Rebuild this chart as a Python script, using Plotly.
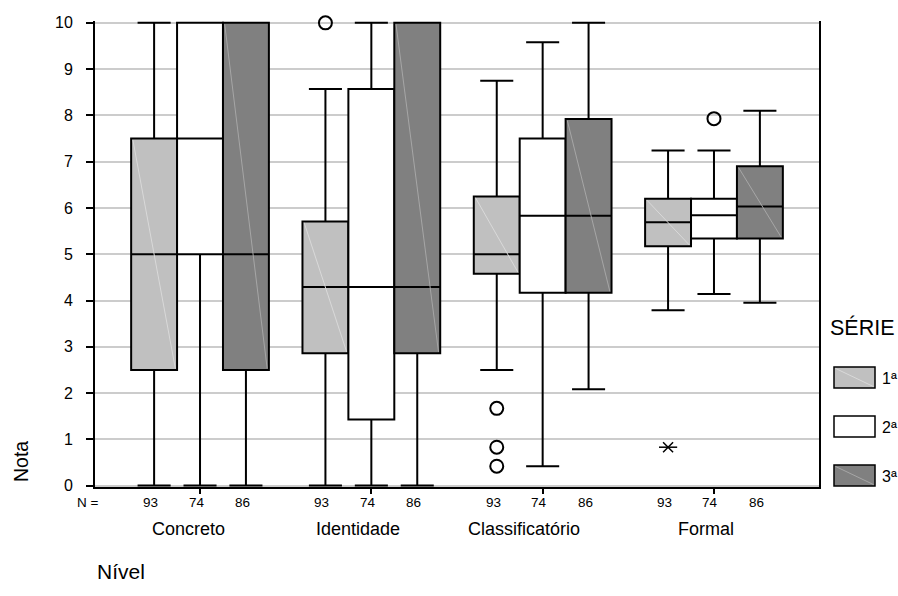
import plotly.graph_objects as go

# --- data -------------------------------------------------------------
categories = ["Concreto", "Identidade", "Classificatório", "Formal"]
series = ["1ª", "2ª", "3ª"]
counts = [93, 74, 86]
fills = ["#c0c0c0", "#ffffff", "#808080"]
sheen = ["#d9d9d9", None, "#a6a6a6"]   # faint diagonal highlight inside boxes

lower = [[0.0, 0.0, 2.50, 3.79],
         [0.0, 0.0, 0.42, 4.14],
         [0.0, 0.0, 2.08, 3.95]]
q1 = [[2.50, 2.86, 4.58, 5.17],
      [5.00, 1.43, 4.17, 5.34],
      [2.50, 2.86, 4.17, 5.34]]
median = [[5.00, 4.29, 5.00, 5.69],
          [7.50, 4.29, 5.83, 5.84],
          [5.00, 4.29, 5.83, 6.03]]
q3 = [[7.50, 5.71, 6.25, 6.20],
      [10.0, 8.57, 7.50, 6.20],
      [10.0, 10.0, 7.92, 6.90]]
upper = [[10.0, 8.57, 8.75, 7.24],
         [10.0, 10.0, 9.58, 7.24],
         [10.0, 10.0, 10.0, 8.10]]

# outliers (o) and extremes (*)
out_cat = [1, 2, 2, 2, 3, 3]
out_series = [0, 0, 0, 0, 1, 0]
out_value = [10.0, 1.67, 0.83, 0.42, 7.93, 0.83]
out_kind = ["o", "o", "o", "o", "o", "*"]

y_ticks = list(range(0, 11))

# --- layout geometry ---------------------------------------------------
W, H = 898, 596
L, R, T, B = 95, 79, 21, 109
PW, PH = W - L - R, H - T - B
BW = 0.268  # box width in category units
offsets = [-BW, 0.0, BW]
FONT = "Liberation Sans, Arial, sans-serif"
BLACK = "#000000"


def paper(xp, yp):
    return (xp - L) / PW, 1 - (yp - T) / PH


def label(text, xp, yp, size, **kw):
    x, y = paper(xp, yp)
    d = dict(x=x, y=y, xref="paper", yref="paper", text=text, showarrow=False,
             xanchor="center", yanchor="middle",
             font=dict(size=size, family=FONT, color=BLACK))
    d.update(kw)
    return d


fig = go.Figure()

shapes = []
for s in range(3):
    xs = [g + offsets[s] for g in range(len(categories))]
    fig.add_trace(go.Box(
        x=xs, q1=q1[s], median=median[s], q3=q3[s],
        lowerfence=lower[s], upperfence=upper[s],
        width=BW, whiskerwidth=0.72,
        fillcolor=fills[s], line=dict(color=BLACK, width=2),
        boxpoints=False, name=series[s], showlegend=False,
        hoverinfo="skip",
    ))
    if sheen[s]:
        for g, xc in enumerate(xs):
            shapes.append(dict(type="line", xref="x", yref="y", layer="above",
                               x0=xc - BW / 2 + 0.01, y0=q3[s][g] - 0.03,
                               x1=xc + BW / 2 - 0.01, y1=q1[s][g] + 0.03,
                               line=dict(color=sheen[s], width=1)))

# outlier markers
ox = [out_cat[i] + offsets[out_series[i]] for i in range(len(out_value)) if out_kind[i] == "o"]
oy = [out_value[i] for i in range(len(out_value)) if out_kind[i] == "o"]
fig.add_trace(go.Scatter(
    x=ox, y=oy, mode="markers", showlegend=False, hoverinfo="skip",
    cliponaxis=False,
    marker=dict(symbol="circle-open", size=13, color=BLACK, line=dict(width=2)),
))
ex = [out_cat[i] + offsets[out_series[i]] for i in range(len(out_value)) if out_kind[i] == "*"]
ey = [out_value[i] for i in range(len(out_value)) if out_kind[i] == "*"]
for sym, sz in (("x-thin-open", 10), ("line-ew-open", 13)):
    fig.add_trace(go.Scatter(
        x=ex, y=ey, mode="markers", showlegend=False, hoverinfo="skip",
        marker=dict(symbol=sym, size=sz, color=BLACK, line=dict(width=1.5, color=BLACK)),
    ))

annotations = []
# N row
annotations.append(label("N =", 88, 502, 13.5))
_, ny = paper(0, 502)
for g in range(len(categories)):
    for s in range(3):
        annotations.append(dict(x=g + offsets[s], y=ny, xref="x", yref="paper",
                                text=str(counts[s]), showarrow=False, xshift=-3.5,
                                xanchor="center", yanchor="middle",
                                font=dict(size=13.5, family=FONT, color=BLACK)))
# category labels
cat_shift = [-12, -13, -19, -8]
_, cy = paper(0, 529)
for g, name in enumerate(categories):
    annotations.append(dict(x=g, y=cy, xref="x", yref="paper", text=name,
                            showarrow=False, xshift=cat_shift[g],
                            xanchor="center", yanchor="middle",
                            font=dict(size=18, family=FONT, color=BLACK)))
# axis titles
annotations.append(label("Nível", 121, 571, 21))
annotations.append(label("Nota", 21, 462, 19.5, textangle=-90))

# legend
annotations.append(label("SÉRIE", 862, 327, 21.5))
leg_top = [367, 416, 465]
for s in range(3):
    x0, y0 = paper(834, leg_top[s])
    x1, y1 = paper(875, leg_top[s] + 21)
    shapes.append(dict(type="rect", xref="paper", yref="paper", x0=x0, y0=y0, x1=x1, y1=y1,
                       fillcolor=fills[s], line=dict(color=BLACK, width=1.5)))
    if sheen[s]:
        shapes.append(dict(type="line", xref="paper", yref="paper",
                           x0=x0 + 0.002, y0=y0 - 0.003, x1=x1 - 0.002, y1=y1 + 0.003,
                           line=dict(color=sheen[s], width=1)))
    annotations.append(label(series[s], 880, leg_top[s] + 11, 16, xanchor="left"))

fig.update_layout(
    width=W, height=H, margin=dict(l=L, r=R, t=T, b=B, pad=0),
    plot_bgcolor="#ffffff", paper_bgcolor="#ffffff",
    boxmode="overlay", showlegend=False,
    annotations=annotations, shapes=shapes,
    xaxis=dict(range=[-0.613, 3.613], tickvals=list(range(len(categories))),
               showticklabels=False, ticks="outside", ticklen=5, tickwidth=2,
               tickcolor=BLACK, showline=True, linecolor=BLACK, linewidth=2,
               showgrid=False, zeroline=False, mirror=False, fixedrange=True),
    yaxis=dict(range=[-0.03, 10.04], tickvals=y_ticks, ticks="outside", ticklen=7,
               tickwidth=2, tickcolor=BLACK, showline=True, linecolor=BLACK,
               linewidth=2, mirror=True, showgrid=True, gridcolor="#cccccc",
               gridwidth=1.5, zeroline=False, ticklabelstandoff=10,
               tickfont=dict(size=16, family=FONT, color=BLACK), fixedrange=True),
)

fig.write_html("out.html")
